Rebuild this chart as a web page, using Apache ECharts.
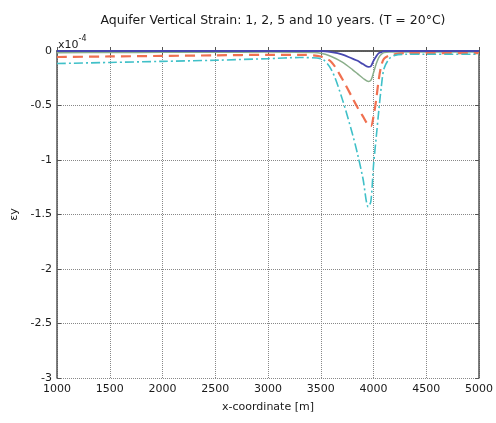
<!DOCTYPE html>
<html><head><meta charset="utf-8">
<script src="https://cdn.jsdelivr.net/npm/echarts@6/dist/echarts.min.js"></script>
<style>html,body{margin:0;padding:0;background:#fff}#c{width:496px;height:423px}</style>
</head><body><div id="c"></div>
<script>
// x positions [m]
var xs = [1000,1500,2000,2500,3000,3300,3500,3600,3700,3800,3850,3900,3950,3975,4000,4025,4050,4075,4100,4150,4200,4300,4500,5000];
// vertical strain (x1e-4)
var year1  = [0,0,0,0,0,0,0,-0.01,-0.03,-0.07,-0.09,-0.12,-0.145,-0.14,-0.09,-0.05,-0.02,-0.01,0,0,0,0,0,0];
var year2  = [-0.015,-0.014,-0.012,-0.011,-0.01,-0.012,-0.02,-0.05,-0.1,-0.17,-0.21,-0.25,-0.28,-0.27,-0.2,-0.12,-0.06,-0.03,-0.015,-0.01,-0.01,-0.01,-0.01,-0.01];
var year5  = [-0.055,-0.05,-0.045,-0.04,-0.035,-0.035,-0.05,-0.1,-0.25,-0.43,-0.52,-0.6,-0.68,-0.69,-0.6,-0.45,-0.26,-0.13,-0.07,-0.04,-0.03,-0.02,-0.02,-0.02];
var year10 = [-0.115,-0.105,-0.095,-0.085,-0.07,-0.06,-0.07,-0.17,-0.43,-0.76,-0.95,-1.17,-1.43,-1.38,-1.05,-0.8,-0.55,-0.32,-0.16,-0.07,-0.04,-0.03,-0.03,-0.03];
var xTicks = [1000,1500,2000,2500,3000,3500,4000,4500,5000];
var yTicks = [0,-0.5,-1,-1.5,-2,-2.5,-3];

function pairs(v){ return xs.map(function(x,i){ return [x, v[i]]; }); }
var font = 'DejaVu Sans';
var chart = echarts.init(document.getElementById('c'), null, {renderer:'canvas'});
var axisLine = {show:true, lineStyle:{color:'#555', width:1.5}};
var tick = {show:true, inside:true, length:4, lineStyle:{color:'#555'}};
var lbl = {fontFamily:font, fontSize:11, color:'#1a1a1a', fontWeight:500};
chart.setOption({
  animation:false,
  backgroundColor:'#fff',
  title:{text:'Aquifer Vertical Strain: 1, 2, 5 and 10 years. (T = 20°C)', left:268, top:9, textAlign:'center',
    textStyle:{fontFamily:font, fontSize:12.5, fontWeight:'normal', color:'#1a1a1a'}},
  grid:{left:57, right:17, top:51, bottom:45},
  xAxis:[{type:'value', min:1000, max:5000, interval:500, axisLine:axisLine, axisTick:tick,
      axisLabel:Object.assign({margin:6, formatter:function(v){return String(v);}}, lbl),
      splitLine:{show:true, lineStyle:{type:[1,1], color:'#888'}},
      name:'x-coordinate [m]', nameLocation:'middle', nameGap:24,
      nameTextStyle:lbl},
    {type:'value', position:'top', min:1000, max:5000, interval:500, axisLine:axisLine, axisTick:tick,
      axisLabel:{show:false}, splitLine:{show:false}}],
  yAxis:[{type:'value', min:-3, max:0, interval:0.5, axisLine:axisLine, axisTick:tick,
      axisLabel:Object.assign({margin:5, formatter:function(v){return String(v);}}, lbl),
      splitLine:{show:true, lineStyle:{type:[1,1], color:'#888'}},
      name:'εy', nameLocation:'middle', nameGap:34, nameRotate:90,
      nameTextStyle:lbl},
    {type:'value', position:'right', min:-3, max:0, interval:0.5, axisLine:axisLine, axisTick:tick,
      axisLabel:{show:false}, splitLine:{show:false}}],
  graphic:[{type:'text', left:58, top:35, style:{text:'{a|x10}{b|-4}', rich:{
      a:{fontFamily:font, fontSize:11, fill:'#1a1a1a', padding:[6,0,0,0]},
      b:{fontFamily:font, fontSize:8, fill:'#1a1a1a', padding:[0,0,6,0]}}}}],
  series:[
    {type:'line', name:'1 yr', data:pairs(year1), smooth:0.3, showSymbol:false, z:5,
      lineStyle:{color:'#4848b0', width:1.8}},
    {type:'line', name:'2 yr', data:pairs(year2), smooth:0.3, showSymbol:false,
      lineStyle:{color:'#8aae8a', width:1.5}},
    {type:'line', name:'5 yr', data:pairs(year5), smooth:0.3, showSymbol:false,
      lineStyle:{color:'#f07050', width:2.2, type:[10,6]}},
    {type:'line', name:'10 yr', data:pairs(year10), smooth:0.3, showSymbol:false,
      lineStyle:{color:'#40c0c8', width:1.6, type:[9,3,2,3]}}
  ]
});
</script></body></html>
